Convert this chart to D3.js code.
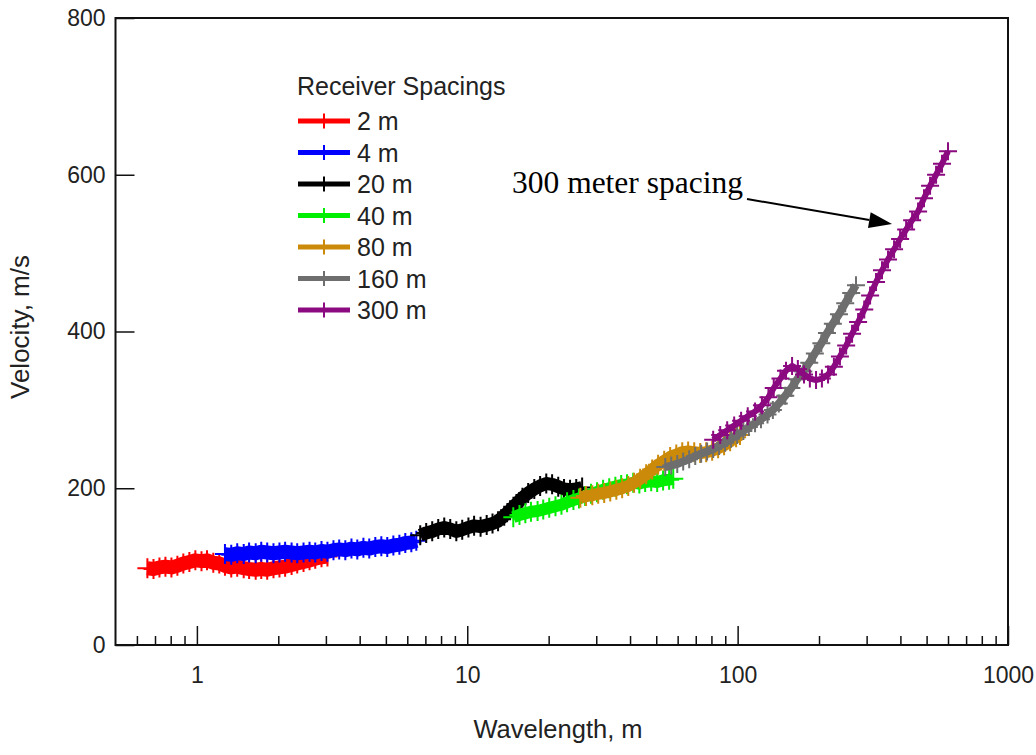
<!DOCTYPE html>
<html><head><meta charset="utf-8">
<script src="https://cdn.jsdelivr.net/npm/d3@7"></script>
<style>body{margin:0;background:#fff}svg{display:block}</style>
</head><body><svg id="c" width="1036" height="755"></svg>
<script>
// ---- DATA: [wavelength (m), velocity (m/s)] ----
const seriesNames = ["2 m","4 m","20 m","40 m","80 m","160 m","300 m"];
const s2m = [[0.656,98],[0.691,97],[0.727,99],[0.765,100],[0.805,99],[0.847,101],[0.891,104],[0.938,106],[0.987,108],[1.04,107],[1.09,108],[1.15,105],[1.21,104],[1.27,101],[1.34,99],[1.41,100],[1.49,98],[1.56,97],[1.65,96],[1.73,97],[1.82,96],[1.92,98],[2.02,99],[2.12,100],[2.24,102],[2.35,104],[2.48,106],[2.61,108],[2.74,110],[2.89,112],[3.04,113]];
const s4m = [[1.27,116],[1.34,115],[1.41,117],[1.49,116],[1.56,118],[1.65,117],[1.73,119],[1.82,118],[1.92,117],[2.02,118],[2.12,119],[2.24,118],[2.35,117],[2.48,118],[2.61,119],[2.74,118],[2.89,120],[3.04,119],[3.20,121],[3.36,122],[3.54,121],[3.73,123],[3.92,122],[4.13,124],[4.34,123],[4.57,125],[4.81,126],[5.06,125],[5.33,127],[5.61,128],[5.90,130],[6.21,131],[6.48,133]];
const s20m = [[6.70,140],[7.05,143],[7.42,145],[7.81,148],[8.22,150],[8.65,148],[9.11,145],[9.58,147],[10.1,150],[10.6,152],[11.2,151],[11.8,153],[12.4,155],[13.0,158],[13.7,165],[14.4,172],[15.2,180],[16.0,188],[16.8,194],[17.7,199],[18.6,203],[19.6,206],[20.6,205],[21.7,202],[22.8,199],[24.0,198],[25.3,199],[26.6,201]];
const s40m = [[14.8,163],[15.6,166],[16.4,168],[17.2,170],[18.2,171],[19.1,173],[20.1,175],[21.2,177],[22.3,179],[23.4,182],[24.7,185],[25.9,187],[27.3,190],[28.7,193],[30.2,195],[31.8,198],[33.5,200],[35.3,202],[37.1,204],[39.0,205],[41.1,207],[43.3,206],[45.5,208],[47.9,209],[50.4,208],[53.0,210],[55.8,211],[57.8,212]];
const s80m = [[26.2,188],[27.5,190],[29.0,191],[30.5,193],[32.1,194],[33.8,196],[35.6,198],[37.4,200],[39.4,203],[41.4,207],[43.6,212],[45.9,218],[48.3,224],[50.8,230],[53.5,235],[56.3,240],[59.3,243],[62.4,246],[65.6,247],[69.1,246],[72.7,245],[76.5,246],[80.5,248],[84.7,251],[89.1,255],[93.8,260],[98.7,265],[102,268]];
const s160m = [[54.0,227],[56.8,229],[59.8,231],[62.9,234],[66.2,237],[69.7,241],[73.3,244],[77.1,247],[81.2,250],[85.4,254],[89.9,258],[94.6,263],[99.6,268],[105,273],[110,278],[116,283],[122,288],[129,294],[135,300],[142,308],[150,318],[158,328],[166,339],[175,349],[184,360],[193,372],[204,385],[214,398],[225,410],[237,422],[250,436],[263,449],[274,459]];
const s300m = [[81.2,262],[86.2,268],[91.5,274],[97.1,280],[103,286],[109,292],[116,298],[123,306],[130,316],[136,328],[144,340],[151,350],[159,356],[167,352],[176,345],[185,340],[195,338],[205,340],[216,345],[227,355],[239,368],[252,382],[265,397],[279,412],[294,428],[309,446],[325,463],[342,478],[360,492],[379,505],[399,518],[420,530],[442,542],[465,553],[489,570],[515,586],[542,600],[570,614],[600,630]];
const allSeries = [s2m,s4m,s20m,s40m,s80m,s160m,s300m];
const xTickValues = [1,10,100,1000];
const yTickValues = [0,200,400,600,800];
const legendTitle = "Receiver Spacings";
const xTitle = "Wavelength, m";
const yTitle = "Velocity, m/s";
const annotationText = "300 meter spacing";

// ---- STYLE ----
const seriesColors = ["#ff0000","#0000ff","#000000","#00ee00","#cc8a0a","#6e6e6e","#8b0a80"];
const lineWidths = [14,14,13,12,12,8,6];
const markerHalf = [10,10,10,10,10,9,9];

// ---- LAYOUT ----
const L=115.5, R=1008, T=18, B=645;
const x = d3.scaleLog().domain([0.5,1000]).range([L,R]);
const y = d3.scaleLinear().domain([0,800]).range([B,T]);
const svg = d3.select("#c");
const textCol = "#222";
const sans = "'Liberation Sans', Arial, sans-serif";

// series
const line = d3.line().x(d=>x(d[0])).y(d=>y(d[1]));
allSeries.forEach((s,i)=>{
  const g = svg.append("g");
  const M = markerHalf[i];
  g.append("path").datum(s).attr("d",line).attr("fill","none")
    .attr("stroke",seriesColors[i]).attr("stroke-width",lineWidths[i]).attr("stroke-linejoin","round").attr("stroke-linecap","butt");
  g.selectAll("path.m").data(s).join("path").attr("class","m")
    .attr("d",d=>{const px=x(d[0]),py=y(d[1]);return `M${px-M},${py}H${px+M}M${px},${py-M}V${py+M}`;})
    .attr("stroke",seriesColors[i]).attr("stroke-width",2).attr("fill","none");
});

// frame
svg.append("rect").attr("x",L).attr("y",T).attr("width",R-L).attr("height",B-T)
  .attr("fill","none").attr("stroke","#111").attr("stroke-width",2);

// x axis
const xMinor = x.ticks().filter(v=>!xTickValues.includes(v) && v>0.5);
const xMinorAxis = d3.axisBottom(x).tickValues(xMinor).tickSize(-9).tickFormat("");
svg.append("g").attr("transform",`translate(0,${B})`).call(xMinorAxis)
  .call(g=>g.select(".domain").remove())
  .call(g=>g.selectAll("line").attr("stroke","#111").attr("stroke-width",1.5));
const xAxis = d3.axisBottom(x).tickValues(xTickValues).tickSize(-19).tickPadding(22).tickFormat(d3.format("d"));
svg.append("g").attr("transform",`translate(0,${B})`).call(xAxis)
  .call(g=>g.select(".domain").remove())
  .call(g=>g.selectAll("line").attr("stroke","#111").attr("stroke-width",1.5))
  .call(g=>g.selectAll("text").attr("font-family",sans).attr("font-size",23).attr("fill",textCol));

// y axis
const yAxis = d3.axisLeft(y).tickValues(yTickValues).tickSize(-19).tickPadding(10).tickFormat(d3.format("d"));
svg.append("g").attr("transform",`translate(${L},0)`).call(yAxis)
  .call(g=>g.select(".domain").remove())
  .call(g=>g.selectAll("line").attr("stroke","#111").attr("stroke-width",1.5))
  .call(g=>g.selectAll("text").attr("font-family",sans).attr("font-size",23).attr("fill",textCol));

// axis titles
svg.append("text").attr("x",558).attr("y",738).attr("text-anchor","middle")
  .attr("font-family",sans).attr("font-size",25.5).attr("fill",textCol).text(xTitle);
svg.append("text").attr("transform","translate(29,327) rotate(-90)").attr("text-anchor","middle")
  .attr("font-family",sans).attr("font-size",26).attr("fill",textCol).text(yTitle);

// legend
const lg = svg.append("g");
lg.append("text").attr("x",297).attr("y",95).attr("font-family",sans).attr("font-size",25)
  .attr("fill",textCol).text(legendTitle);
seriesNames.forEach((n,i)=>{
  const cy = 121 + i*31.5;
  lg.append("line").attr("x1",298).attr("x2",350).attr("y1",cy).attr("y2",cy)
    .attr("stroke",seriesColors[i]).attr("stroke-width",5);
  lg.append("line").attr("x1",324).attr("x2",324).attr("y1",cy-7.5).attr("y2",cy+7.5)
    .attr("stroke",seriesColors[i]).attr("stroke-width",2);
  lg.append("text").attr("x",357).attr("y",cy+9).attr("font-family",sans).attr("font-size",25)
    .attr("fill",textCol).text(n);
});

// annotation
svg.append("text").attr("x",512).attr("y",193).attr("font-family","'Liberation Serif','Times New Roman',serif")
  .attr("font-size",31.5).attr("fill","#000").text(annotationText);
const ax1=747, ay1=199, ax2=892, ay2=224;
const ang = Math.atan2(ay2-ay1, ax2-ax1);
const hl=23, hw=8;
const bx = ax2 - hl*Math.cos(ang), by = ay2 - hl*Math.sin(ang);
svg.append("line").attr("x1",ax1).attr("y1",ay1).attr("x2",bx).attr("y2",by).attr("stroke","#000").attr("stroke-width",2);
svg.append("path").attr("d",`M${ax2},${ay2}L${bx - hw*Math.sin(ang)},${by + hw*Math.cos(ang)}L${bx + hw*Math.sin(ang)},${by - hw*Math.cos(ang)}Z`).attr("fill","#000");
</script></body></html>
